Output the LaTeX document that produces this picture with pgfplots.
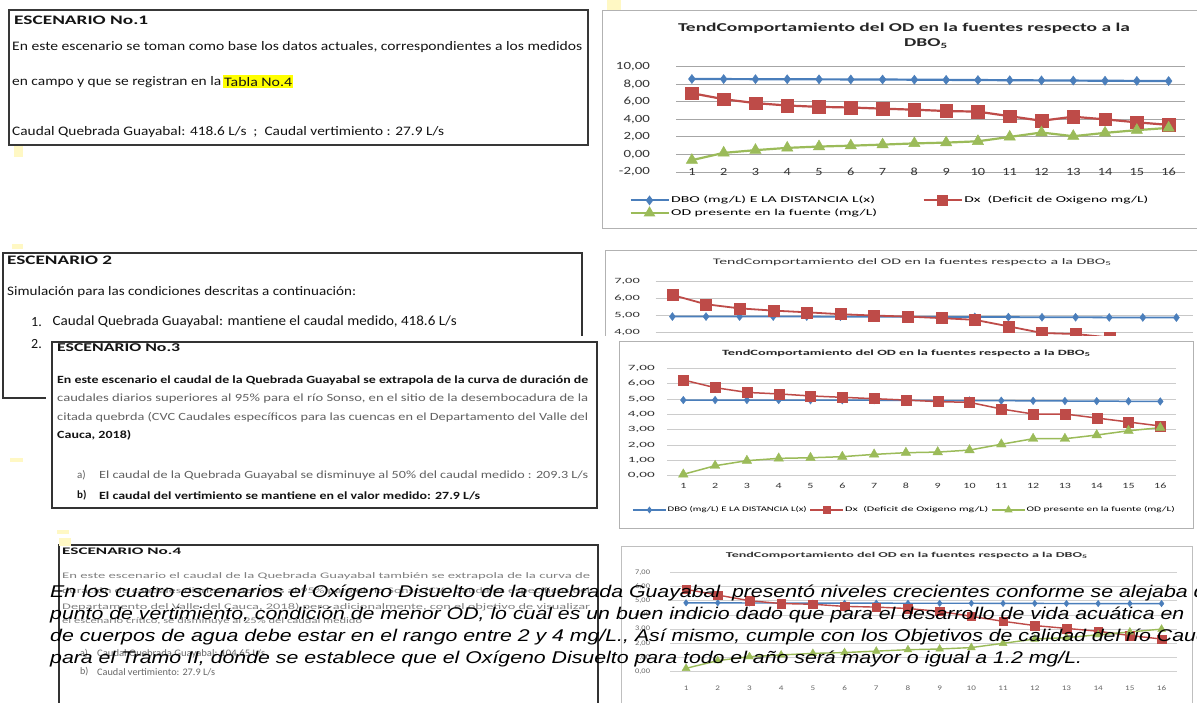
\documentclass[border=0pt]{standalone}
\usepackage{pgfplots}
\usepackage{pgfplotstable}
\pgfplotsset{compat=1.18}
\usepackage{graphicx}
\usepackage{fontspec}
\setmainfont{Carlito}
\newfontfamily\arialf{Liberation Sans}
\definecolor{xblue}{HTML}{4A7EBB}
\definecolor{xred}{HTML}{BE4B48}
\definecolor{xgreen}{HTML}{9BBB59}
\definecolor{txt}{HTML}{141414}
\definecolor{hl}{HTML}{FFFF00}
\definecolor{paleY}{HTML}{FFF8C4}
\newcommand\fitw[2]{\resizebox{#1}{\height}{#2}}
\newcommand\fs[1]{\fontsize{#1}{#1}\selectfont}
\newcommand\ylab[2]{\scalebox{#2}[1]{\fs{#1}\pgfmathprintnumber[fixed,fixed zerofill,precision=2,use comma,assume math mode=true]{\tick}}}
\newcommand\xlab[2]{\scalebox{#2}[1]{\fs{#1}\pgfmathprintnumber[fixed,precision=0,assume math mode=true]{\tick}}}

\pgfplotstableread{
x dbo dx od
1 8.60 6.98 -0.65
2 8.59 6.30 0.18
3 8.58 5.85 0.49
4 8.57 5.58 0.75
5 8.56 5.42 0.90
6 8.55 5.35 1.00
7 8.54 5.22 1.12
8 8.52 5.10 1.26
9 8.50 4.95 1.35
10 8.48 4.88 1.50
11 8.46 4.36 2.00
12 8.44 3.84 2.50
13 8.42 4.30 2.08
14 8.40 4.00 2.46
15 8.38 3.66 2.77
16 8.37 3.37 3.03
}\dataA

\pgfplotstableread{
x dbo dx od
1 4.92 6.18 0.09
2 4.92 5.64 0.65
3 4.92 5.40 0.98
4 4.92 5.27 1.13
5 4.92 5.17 1.17
6 4.91 5.06 1.24
7 4.91 4.98 1.39
8 4.91 4.92 1.50
9 4.90 4.83 1.54
10 4.90 4.73 1.67
11 4.89 4.35 2.05
12 4.88 3.96 2.41
13 4.88 3.90 2.41
14 4.87 3.70 2.65
15 4.87 3.45 2.93
16 4.86 3.20 3.13
}\dataB

\pgfplotstableread{
x dbo dx od
1 4.93 6.24 0.09
2 4.93 5.74 0.65
3 4.93 5.43 0.98
4 4.93 5.33 1.13
5 4.92 5.20 1.17
6 4.92 5.11 1.24
7 4.92 5.02 1.39
8 4.91 4.93 1.50
9 4.90 4.83 1.54
10 4.90 4.78 1.67
11 4.89 4.35 2.05
12 4.88 4.02 2.41
13 4.87 4.02 2.41
14 4.86 3.76 2.65
15 4.85 3.50 2.93
16 4.84 3.24 3.13
}\dataC

\pgfplotstableread{
x dbo dx od
1 4.85 5.80 0.24
2 4.85 5.40 0.78
3 4.84 5.00 1.06
4 4.84 4.80 1.18
5 4.83 4.75 1.29
6 4.83 4.60 1.35
7 4.83 4.55 1.45
8 4.82 4.45 1.55
9 4.82 4.25 1.60
10 4.82 3.90 1.70
11 4.81 3.55 2.00
12 4.81 3.25 2.30
13 4.80 3.05 2.40
14 4.80 2.85 2.60
15 4.80 2.55 2.80
16 4.80 2.30 3.00
}\dataD

\pgfplotsset{
  xlbase/.style={scale only axis, anchor=south west, xmin=0.5, xmax=16.5, xtick={1,...,16},
    axis line style={draw=none}, major tick length=0pt, ymajorgrids, clip=false,
    yticklabel style={anchor=east, inner sep=0pt, text=black!80},
    xticklabel style={anchor=center, inner sep=0pt, text=black!80},
    legend cell align=left},
}

\newlength\itw
\newlength\tiw
\begin{document}%
\settowidth\itw{\fs{17}\arialf\itshape para el Tramo II, donde se establece que el Oxígeno Disuelto para todo el año será mayor o igual a 1.2 mg/L.}%
\pgfmathsetmacro\itfac{1032pt/\itw}%
\settowidth\tiw{\fs{12}\bfseries TendComportamiento del OD en la fuentes respecto a la}%
\pgfmathsetmacro\tifac{452pt/\tiw}%
\begin{tikzpicture}
\useasboundingbox (0pt,0pt) rectangle (1197pt,-702pt);
\clip (0pt,0pt) rectangle (1197pt,-702pt);
\fill[white] (0pt,0pt) rectangle (1197pt,-702pt);

% ---------------- Box 1 ----------------
\begin{scope}[x=1pt,y=-1pt]
\draw[black!78, line width=1.5pt] (9,10) rectangle (588,145);
\node[anchor=west,inner sep=0,text=txt] at (14,20) {\fs{13}\bfseries\fitw{134pt}{ESCENARIO No.1}};
\node[anchor=west,inner sep=0,text=txt] at (12,46.7) {\fs{13}\fitw{570pt}{En este escenario se toman como base los datos actuales, correspondientes a los medidos}};
\node[anchor=west,inner sep=0,text=txt] at (12,81.7) {\fs{13}\fitw{209pt}{en campo y que se registran en la}};
\node[anchor=west,fill=hl,inner xsep=1pt,inner ysep=2pt,text=txt] at (223,81.7) {\fs{13}\fitw{68pt}{Tabla No.4}};
\node[anchor=west,inner sep=0,text=txt] at (12,131.7) {\fs{13}\fitw{432pt}{Caudal Quebrada Guayabal: 418.6 L/s~~;~~Caudal vertimiento : 27.9 L/s}};
% chart 1 frame
\draw[black!30, line width=1pt] (602,10) rectangle (1210,228);
\node[text=black!85] at (904,28.3) {\scalebox{\tifac}[1]{\fs{12}\bfseries TendComportamiento del OD en la fuentes respecto a la}};
\node[text=black!85] at (926,43.5) {\scalebox{\tifac}[1]{\fs{12}\bfseries DBO\textsubscript{5}}};
\end{scope}

% ---------------- Chart 1 ----------------
\begin{axis}[xlbase, at={(676pt,-172pt)}, width=508.5pt, height=105.3pt,
  ymin=-2, ymax=10, ytick={-2,0,...,10},
  major grid style={black!35, line width=0.9pt},
  yticklabel={\ylab{11}{1.35}}, yticklabel style={xshift=-26pt},
  xticklabel={\xlab{11}{1.3}},
  legend style={at={(axis description cs:-0.092,-0.215)}, anchor=north west, draw=none, fill=none,
    legend columns=2, inner sep=0pt, nodes={inner sep=1.5pt},
    /tikz/every even column/.append style={column sep=44pt}, row sep=1.5pt},
  legend image code/.code={\draw[#1, mark repeat=2, mark phase=2, mark options={scale=0.7}] plot coordinates {(0pt,0pt) (19pt,0pt) (38pt,0pt)};}
]
\addplot[xblue, line width=2.2pt, mark=diamond*, mark size=4.5pt, mark options={line width=0.5pt}] table[x=x,y=dbo]{\dataA};
\addlegendentry{\fs{9}\fitw{204pt}{DBO (mg/L) E LA DISTANCIA L(x)}}
\addplot[xred, line width=2.2pt, mark=square*, mark size=6.3pt, mark options={line width=0.5pt}] table[x=x,y=dx]{\dataA};
\addlegendentry{\fs{9}\fitw{184pt}{Dx~ (Deficit de Oxigeno mg/L)}}
\addplot[xgreen, line width=2.2pt, mark=triangle*, mark size=6.5pt, mark options={line width=0.5pt}] table[x=x,y=od]{\dataA};
\addlegendentry{\fs{9}\fitw{206pt}{OD presente en la fuente (mg/L)}}
\end{axis}

% ---------------- Box 2 and chart 2 frame ----------------
\begin{scope}[x=1pt,y=-1pt]
\draw[black!80, line width=1.5pt] (3,253) rectangle (582,398);
\node[anchor=west,inner sep=0,text=txt] at (7,260.7) {\fs{13}\bfseries\fitw{105pt}{ESCENARIO 2}};
\node[anchor=west,inner sep=0,text=txt] at (7,291.7) {\fs{13}\fitw{349pt}{Simulación para las condiciones descritas a continuación:}};
\node[anchor=west,inner sep=0,text=txt] at (31,321.7) {\fs{14}1.};
\node[anchor=west,inner sep=0,text=txt] at (52.5,321.7) {\fs{14}\fitw{404pt}{Caudal Quebrada Guayabal: mantiene el caudal medido, 418.6 L/s}};
\node[anchor=west,inner sep=0,text=txt] at (31,344) {\fs{14}2.};
\draw[black!30, line width=1pt] (605,250) rectangle (1210,420);
\node[text=black!80] at (912.5,262.3) {\fs{8.5}\fitw{399pt}{TendComportamiento del OD en la fuentes respecto a la DBO\textsubscript{5}}};
\end{scope}

% ---------------- Chart 2 ----------------
\begin{axis}[xlbase, at={(655.6pt,-400.7pt)}, width=537.6pt, height=119.7pt,
  ymin=0, ymax=7, ytick={0,...,7},
  major grid style={black!22, line width=0.8pt},
  yticklabel={\ylab{8}{1.8}}, yticklabel style={xshift=-15.6pt},
  xticklabel={\xlab{8}{1.5}}, xticklabel style={yshift=-10pt}]
\addplot[xblue, line width=1.8pt, mark=diamond*, mark size=4pt, mark options={line width=0.4pt}] table[x=x,y=dbo]{\dataB};
\addplot[xred, line width=1.8pt, mark=square*, mark size=5.5pt, mark options={line width=0.4pt}] table[x=x,y=dx]{\dataB};
\addplot[xgreen, line width=1.8pt, mark=triangle*, mark size=5.5pt, mark options={line width=0.4pt}] table[x=x,y=od]{\dataB};
\end{axis}

% ---------------- Box 3 and chart 3 frame ----------------
\begin{scope}[x=1pt,y=-1pt]
\fill[white] (46,336) rectangle (600,516);
\fill[white] (600,336) rectangle (1197,534);
\draw[black!80, line width=1.5pt] (52,342) rectangle (597,508);
\node[anchor=west,inner sep=0,text=txt] at (57,347.5) {\fs{12}\bfseries\fitw{123pt}{ESCENARIO No.3}};
\node[anchor=west,inner sep=0,text=txt] at (57,380) {\fs{11}\bfseries\fitw{531pt}{En este escenario el caudal de la Quebrada Guayabal se extrapola de la curva de duración de}};
\node[anchor=west,inner sep=0,text=black!62] at (57,398.3) {\fs{11}\fitw{531pt}{caudales diarios superiores al 95\% para el río Sonso, en el sitio de la desembocadura de la}};
\node[anchor=west,inner sep=0,text=black!62] at (57,417.7) {\fs{11}\fitw{531pt}{citada quebrda (CVC Caudales específicos para las cuencas en el Departamento del Valle del}};
\node[anchor=west,inner sep=0,text=txt] at (57,435.7) {\fs{11}\bfseries\fitw{74pt}{Cauca, 2018)}};
\node[anchor=west,inner sep=0,text=black!62] at (77,475.7) {\fs{11}a)};
\node[anchor=west,inner sep=0,text=black!62] at (99,475.7) {\fs{11}\fitw{489pt}{El caudal de la Quebrada Guayabal se disminuye al 50\% del caudal medido : 209.3 L/s}};
\node[anchor=west,inner sep=0,text=txt] at (77,495.7) {\fs{11}\bfseries b)};
\node[anchor=west,inner sep=0,text=txt] at (99,495.7) {\fs{11}\bfseries\fitw{381pt}{El caudal del vertimiento se mantiene en el valor medido: 27.9 L/s}};
\draw[black!30, line width=1pt] (619.3,341) rectangle (1193.7,528.3);
\node[text=black!85] at (906.5,353.3) {\fs{8}\bfseries\fitw{369pt}{TendComportamiento del OD en la fuentes respecto a la DBO\textsubscript{5}}};
\end{scope}

% ---------------- Chart 3 ----------------
\begin{axis}[xlbase, at={(667.4pt,-475.7pt)}, width=508.8pt, height=107.4pt,
  ymin=0, ymax=7, ytick={0,...,7},
  major grid style={black!20, line width=0.8pt},
  yticklabel={\ylab{8}{1.9}}, yticklabel style={xshift=-12.4pt},
  xticklabel={\xlab{8}{1.5}}, xticklabel style={yshift=-10pt},
  legend style={at={(axis description cs:-0.0696,-0.319)}, anchor=west, draw=none, fill=none,
    legend columns=3, inner sep=0pt, nodes={inner sep=1pt},
    /tikz/every even column/.append style={column sep=2pt}},
  legend image code/.code={\draw[#1, mark repeat=2, mark phase=2, mark options={scale=0.6}] plot coordinates {(0pt,0pt) (16.5pt,0pt) (33pt,0pt)};}
]
\addplot[xblue, line width=1.5pt, mark=diamond*, mark size=3.8pt, mark options={line width=0.4pt}] table[x=x,y=dbo]{\dataC};
\addlegendentry{\fs{7}\fitw{139pt}{DBO (mg/L) E LA DISTANCIA L(x)}}
\addplot[xred, line width=1.5pt, mark=square*, mark size=5pt, mark options={line width=0.4pt}] table[x=x,y=dx]{\dataC};
\addlegendentry{\fs{7}\fitw{143pt}{Dx~ (Deficit de Oxigeno mg/L)}}
\addplot[xgreen, line width=1.5pt, mark=triangle*, mark size=5.5pt, mark options={line width=0.4pt}] table[x=x,y=od]{\dataC};
\addlegendentry{\fs{7}\fitw{148pt}{OD presente en la fuente (mg/L)}}
\end{axis}

% ---------------- Box 4 and chart 4 frame ----------------
\begin{scope}[x=1pt,y=-1pt]
\draw[black!80, line width=1.3pt] (59,545) rectangle (598,712);
\node[anchor=west,inner sep=0,text=txt] at (62,551) {\fs{10}\bfseries\fitw{119pt}{ESCENARIO No.4}};
\node[anchor=west,inner sep=0,text=black!50] at (62,576) {\fs{8.5}\fitw{528pt}{En este escenario el caudal de la Quebrada Guayabal también se extrapola de la curva de}};
\node[anchor=west,inner sep=0,text=black!50] at (62,591) {\fs{8.5}\fitw{528pt}{duración de caudales diarios superiores al 95\% para el río Sonso (CVC Caudales específicos del}};
\node[anchor=west,inner sep=0,text=black!50] at (62,606.7) {\fs{8.5}\fitw{528pt}{Departamento del Valle del Cauca, 2018) pero adicionalmente, con el objetivo de visualizar}};
\node[anchor=west,inner sep=0,text=black!50] at (62,621) {\fs{8.5}\fitw{300pt}{el escenario crítico, se disminuye al 25\% del caudal medido}};
\node[anchor=west,inner sep=0,text=black!60] at (80,654) {\fs{10}a)};
\node[anchor=west,inner sep=0,text=black!60] at (97,654) {\fs{10}\fitw{168pt}{Caudal Quebrada Guayabal: 104.65 L/s}};
\node[anchor=west,inner sep=0,text=black!60] at (80,672) {\fs{10}b)};
\node[anchor=west,inner sep=0,text=black!60] at (97,672) {\fs{10}\fitw{118pt}{Caudal vertimiento: 27.9 L/s}};
\draw[black!25, line width=1pt] (621.7,546) rectangle (1192,712);
\node[text=black!80] at (907,555.7) {\fs{7.5}\bfseries\fitw{362pt}{TendComportamiento del OD en la fuentes respecto a la DBO\textsubscript{5}}};
\end{scope}

% ---------------- Chart 4 ----------------
\begin{axis}[xlbase, at={(670.2pt,-671.7pt)}, width=507.2pt, height=99.4pt,
  ymin=0, ymax=7, ytick={0,...,7},
  major grid style={black!18, line width=0.8pt},
  yticklabel={\ylab{7}{1.2}}, yticklabel style={xshift=-20pt, text=black!60},
  xticklabel={\xlab{7}{1.3}}, xticklabel style={yshift=-16.6pt, text=black!60}]
\addplot[xblue, line width=1.4pt, mark=diamond*, mark size=3.2pt, mark options={line width=0.4pt}] table[x=x,y=dbo]{\dataD};
\addplot[xred, line width=1.4pt, mark=square*, mark size=4.3pt, mark options={line width=0.4pt}] table[x=x,y=dx]{\dataD};
\addplot[xgreen, line width=1.4pt, mark=triangle*, mark size=4.5pt, mark options={line width=0.4pt}] table[x=x,y=od]{\dataD};
\end{axis}

% ---------------- yellow marks and overlay text ----------------
\begin{scope}[x=1pt,y=-1pt]
\fill[paleY] (607,0) rectangle (621,10);
\fill[paleY] (14,146) rectangle (23,157);
\fill[paleY] (12,244) rectangle (23,249);
\fill[paleY] (10,458) rectangle (23,462);
\fill[paleY] (57,530) rectangle (69,534);
\fill[paleY] (59,538) rectangle (71,546);
\node[anchor=west,inner sep=0] at (50,592.5) {\scalebox{\itfac}[1]{\fs{17}\arialf\itshape En los cuatro escenarios el Oxígeno Disuelto de la quebrada Guayabal\ \ presentó niveles crecientes conforme se alejaba del}};
\node[anchor=west,inner sep=0] at (50,614.5) {\scalebox{\itfac}[1]{\fs{17}\arialf\itshape punto de vertimiento, condición de menor OD, lo cual es un buen indicio dado que para el desarrollo de vida acuática en}};
\node[anchor=west,inner sep=0] at (50,636.5) {\scalebox{\itfac}[1]{\fs{17}\arialf\itshape de cuerpos de agua debe estar en el rango entre 2 y 4 mg/L., Así mismo, cumple con los Objetivos de calidad del río Cauca}};
\node[anchor=west,inner sep=0] at (50,658.5) {\scalebox{\itfac}[1]{\fs{17}\arialf\itshape para el Tramo II, donde se establece que el Oxígeno Disuelto para todo el año será mayor o igual a 1.2 mg/L.}};
\end{scope}
\end{tikzpicture}%
\end{document}
